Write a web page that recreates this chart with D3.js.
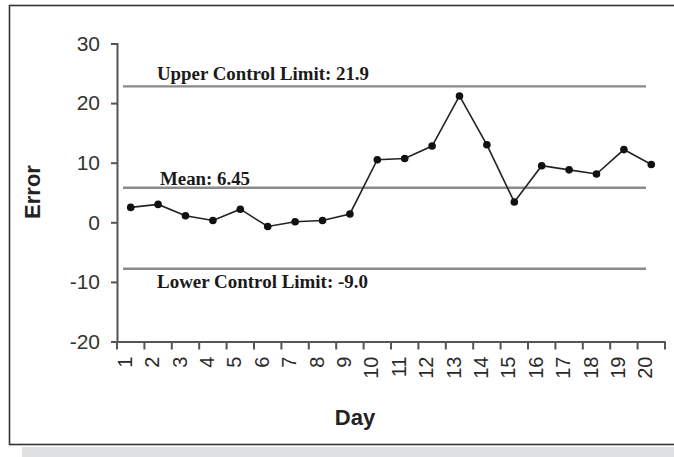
<!DOCTYPE html>
<html><head><meta charset="utf-8">
<script src="https://cdn.jsdelivr.net/npm/d3@7"></script>
<style>body{margin:0;background:#fff;}svg{display:block;}</style>
</head><body>
<svg id="chart" width="674" height="457"></svg>
<script>
const days = ["1","2","3","4","5","6","7","8","9","10","11","12","13","14","15","16","17","18","19","20"];
const errorValues = [2.5, 3.0, 1.1, 0.3, 2.2, -0.7, 0.1, 0.3, 1.4, 10.5, 10.7, 12.8, 21.2, 13.0, 3.4, 9.5, 8.8, 8.1, 12.2, 9.7];
const yTicks = [-20, -10, 0, 10, 20, 30];
const limitNames = ["Upper Control Limit: 21.9", "Mean: 6.45", "Lower Control Limit: -9.0"];
const limitLineValues = [22.8, 5.8, -7.8];

const svg = d3.select("#chart");

// frame and grey band
svg.append("rect").attr("x", 22).attr("y", 447).attr("width", 660).attr("height", 12).attr("fill", "#dfe0e2");
svg.append("rect").attr("x", 9.5).attr("y", 5.5).attr("width", 680).attr("height", 439).attr("fill", "#fff").attr("stroke", "#333").attr("stroke-width", 1.6);

const x = d3.scaleBand().domain(days).range([117, 665]).padding(0);
const y = d3.scaleLinear().domain([-20, 30]).range([341.5, 43.5]);

// control lines
const labelY = [
  d => y(d) - 6,
  d => y(d) - 2.5,
  d => y(d) + 19
];
limitLineValues.forEach((v, i) => {
  svg.append("line").attr("x1", 123).attr("x2", 646).attr("y1", y(v)).attr("y2", y(v))
    .attr("stroke", "#8a8a8a").attr("stroke-width", 2.4);
});
const labelWidths = [212, 90, 211];
limitNames.forEach((t, i) => {
  svg.append("text").attr("x", i === 1 ? 160 : 157).attr("y", labelY[i](limitLineValues[i]))
    .attr("font-family", "Liberation Serif, serif").attr("font-weight", "bold").attr("font-size", 18)
    .attr("fill", "#1a1a1a").attr("textLength", labelWidths[i]).attr("lengthAdjust", "spacingAndGlyphs").text(t);
});

// y axis
const yAxis = d3.axisLeft(y).tickValues(yTicks).tickSize(6).tickPadding(11).tickFormat(d => String(d));
const gy = svg.append("g").attr("transform", "translate(117,0)").call(yAxis);
gy.select(".domain").attr("stroke", "#555").attr("stroke-width", 2);
gy.selectAll(".tick line").attr("stroke", "#555").attr("stroke-width", 2);
gy.selectAll(".tick text").attr("font-family", "Liberation Sans, Arial, sans-serif").attr("font-size", 21).attr("fill", "#333");

// x axis
const xAxis = d3.axisBottom(x).tickSize(0).tickPadding(0);
const gx = svg.append("g").attr("transform", "translate(0,341.5)").call(xAxis);
gx.select(".domain").attr("stroke", "#555").attr("stroke-width", 2.2);
const bounds = days.map(d => x(d)).concat([x(days[days.length - 1]) + x.bandwidth()]);
gx.selectAll("line.bnd").data(bounds).enter().append("line").attr("class", "bnd")
  .attr("x1", d => d).attr("x2", d => d).attr("y1", 0).attr("y2", 8)
  .attr("stroke", "#555").attr("stroke-width", 2);
gx.selectAll(".tick text")
  .attr("font-family", "Liberation Sans, Arial, sans-serif").attr("font-size", 20).attr("fill", "#2a2a2a")
  .attr("text-anchor", "end").attr("dy", null).attr("y", 0)
  .attr("transform", "translate(1,15) rotate(-90)");

// axis titles
svg.append("text").attr("transform", "translate(40,192) rotate(-90)").attr("text-anchor", "middle")
  .attr("font-family", "Liberation Sans, Arial, sans-serif").attr("font-weight", "bold").attr("font-size", 22)
  .attr("fill", "#222").text("Error");
svg.append("text").attr("x", 355).attr("y", 425).attr("text-anchor", "middle")
  .attr("font-family", "Liberation Sans, Arial, sans-serif").attr("font-weight", "bold").attr("font-size", 22)
  .attr("fill", "#222").text("Day");

// series
const cx = d => x(d) + x.bandwidth() / 2;
const line = d3.line().x((d, i) => cx(days[i])).y(d => y(d));
svg.append("path").datum(errorValues).attr("d", line).attr("fill", "none").attr("stroke", "#222").attr("stroke-width", 1.6);
svg.selectAll("circle.pt").data(errorValues).enter().append("circle").attr("class", "pt")
  .attr("cx", (d, i) => cx(days[i])).attr("cy", d => y(d)).attr("r", 3.8).attr("fill", "#111");
</script>
</body></html>
